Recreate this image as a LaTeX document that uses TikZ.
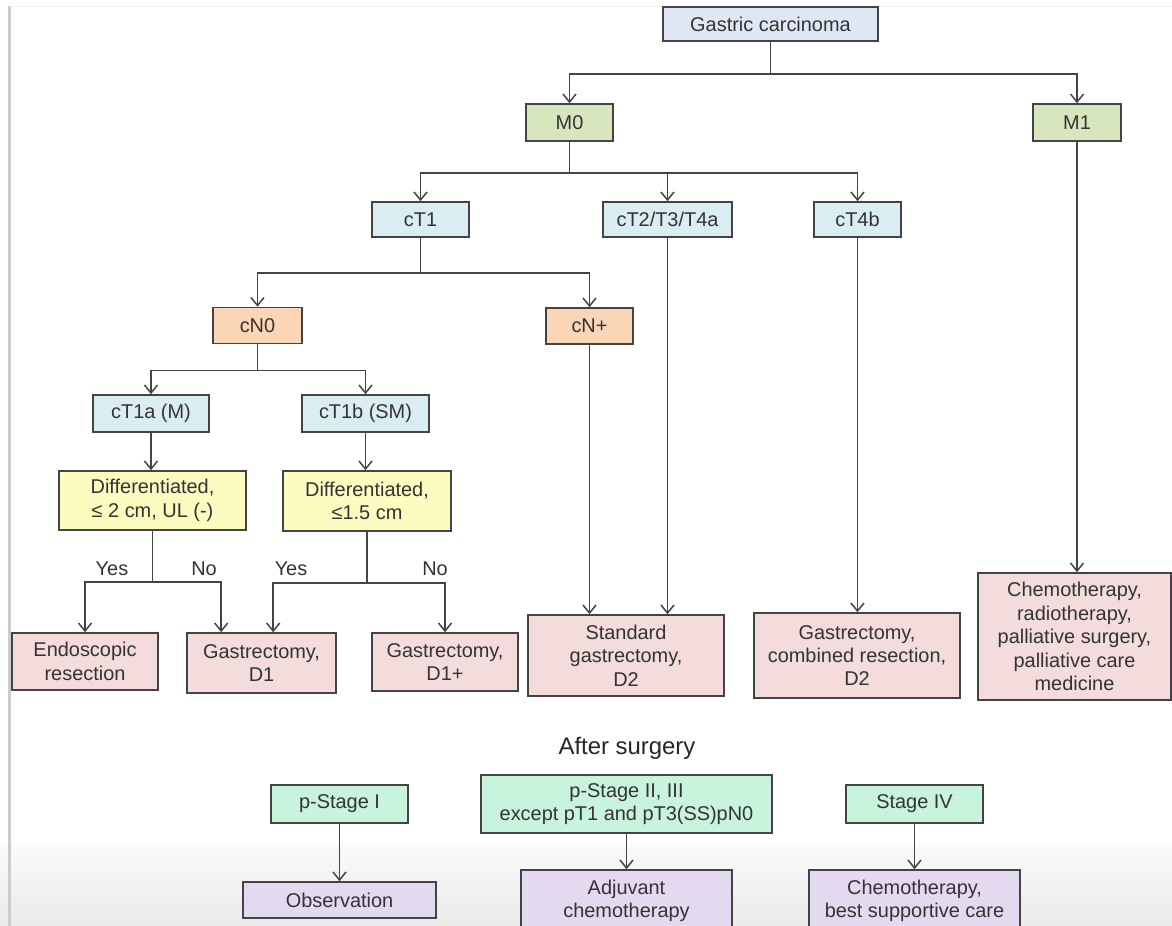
\documentclass[tikz,border=0pt]{standalone}
\usepackage{fontspec}
\setmainfont{Liberation Sans}
\usetikzlibrary{arrows.meta,calc}

\definecolor{edge}{HTML}{444444}
\definecolor{ink}{HTML}{333333}
\definecolor{gcfill}{HTML}{DEE7F3}
\definecolor{tfill}{HTML}{DAEDF3}
\definecolor{mfill}{HTML}{D8E6BE}
\definecolor{nfill}{HTML}{FAD5B6}
\definecolor{yfill}{HTML}{FDFBC0}
\definecolor{pfill}{HTML}{F3DCDB}
\definecolor{gfill}{HTML}{C8F3DD}
\definecolor{vfill}{HTML}{E3DAEF}

\begin{document}
\begin{tikzpicture}[x=1bp,y=-1bp,
  box/.style={draw=edge, line width=1.6bp, align=center, inner sep=0pt,
    text=ink, font=\fontsize{20}{23.5}\selectfont},
  wh/.style 2 args={minimum width=#1bp, minimum height=#2bp},
  gcbox/.style={box, fill=gcfill},
  tbox/.style={box, fill=tfill},
  mbox/.style={box, fill=mfill},
  nbox/.style={box, fill=nfill},
  ybox/.style={box, fill=yfill},
  pbox/.style={box, fill=pfill},
  gbox/.style={box, fill=gfill},
  vbox/.style={box, fill=vfill},
  lbl/.style={inner sep=0pt, text=ink, font=\fontsize{20}{23.5}\selectfont},
  link/.style={draw=edge, line width=1.6bp,
    -{Straight Barb[length=8bp,width=13bp,line width=1.5bp]}}
]
\clip (0,0) rectangle (1172,926);
\fill[white] (0,0) rectangle (1172,926);

% slide frame and lower band
\shade[top color=black!2, bottom color=black!8] (0,846) rectangle (1172,926);
\fill[black!20] (8,6) rectangle (11,926);
\draw[black!6, line width=1bp] (11,6) -- (1172,6);

% staging tree
\node[gcbox, wh={215}{34}] (gc) at (770.5,24) {Gastric carcinoma};
\node[mbox, wh={87}{37}] (m0) at (569.5,122.5) {M0};
\node[mbox, wh={88}{37}] (m1) at (1077,122.5) {M1};

\node[tbox, wh={97}{35}] (ct1) at (420.5,219.5) {cT1};
\node[tbox, wh={129}{35}] (ct2) at (667.5,219.5) {cT2/T3/T4a};
\node[tbox, wh={87}{35}] (ct4b) at (857.5,219.5) {cT4b};

\node[nbox, wh={89}{36}] (cn0) at (257.5,325.5) {cN0};
\node[nbox, wh={87}{36}] (cnp) at (589.5,326) {cN+};

\node[tbox, wh={116}{37}] (ct1a) at (151,413.5) {cT1a (M)};
\node[tbox, wh={127}{37}] (ct1b) at (365.5,413.5) {cT1b (SM)};

\node[ybox, wh={187}{59}] (d1) at (152.5,500.5) {Differentiated,\\≤ 2 cm, UL (-)};
\node[ybox, wh={168}{60}] (d2) at (367,501) {Differentiated,\\≤1.5 cm};

\node[pbox, wh={146}{57}] (endo) at (85,661.5) {Endoscopic\\resection};
\node[pbox, wh={149}{60}] (g1) at (261.5,663) {Gastrectomy,\\D1};
\node[pbox, wh={146}{58}] (g1p) at (445,662) {Gastrectomy,\\D1+};
\node[pbox, wh={196}{81}] (std) at (626,655.5) {Standard\\gastrectomy,\\D2};
\node[pbox, wh={206}{85}] (comb) at (857,655.5) {Gastrectomy,\\combined resection,\\D2};
\node[pbox, wh={193}{127}] (chemo) at (1074.5,636.5) {Chemotherapy,\\radiotherapy,\\palliative surgery,\\palliative care\\medicine};

\node[lbl] (y1) at (112,569) {Yes};
\node[lbl] (n1) at (204,569) {No};
\node[lbl] (y2) at (291,569) {Yes};
\node[lbl] (n2) at (435,569) {No};

% connectors
\draw[link] (gc.south) -- ++(0,32) -| (m0.north);
\draw[link] (gc.south) -- ++(0,32) -| (m1.north);
\draw[link] (m0.south) -- ++(0,31) -| (ct1.north);
\draw[link] (m0.south) -- ++(0,31) -| (ct2.north);
\draw[link] (m0.south) -- ++(0,31) -| (ct4b.north);
\draw[link] (ct1.south) -- ++(0,35) -| (cn0.north);
\draw[link] (ct1.south) -- ++(0,35) -| (cnp.north);
\draw[link] (cn0.south) -- ++(0,26) -| (ct1a.north);
\draw[link] (cn0.south) -- ++(0,26) -| (ct1b.north);
\draw[link] (ct1a.south) -- (ct1a.south |- d1.north);
\draw[link] (ct1b.south) -- (ct1b.south |- d2.north);
\draw[link] (d1.south) -- ++(0,51) -| (endo.north);
\draw[link] (d1.south) -- ++(0,51) -| ($(g1.north west)+(35,0)$);
\draw[link] (d2.south) -- ++(0,51) -| ($(g1.north west)+(87,0)$);
\draw[link] (d2.south) -- ++(0,51) -| (g1p.north);
\draw[link] (cnp.south) -- (cnp.south |- std.north);
\draw[link] (ct2.south) -- (ct2.south |- std.north);
\draw[link] (ct4b.south) -- (ct4b.south |- comb.north);
\draw[link] (m1.south) -- (m1.south |- chemo.north);

% after surgery
\node[inner sep=0pt, text=black!85, font=\fontsize{24}{28}\selectfont] (after) at (627,748) {After surgery};
\node[gbox, wh={137}{38}] (ps1) at (339.5,804) {p-Stage I};
\node[gbox, wh={291}{58}] (ps2) at (626.5,804) {p-Stage II, III\\except pT1 and pT3(SS)pN0};
\node[gbox, wh={137}{38}] (ps4) at (914.5,804) {Stage IV};
\node[vbox, wh={193}{36}] (obs) at (339.5,900) {Observation};
\node[vbox, wh={211}{62}] (adj) at (626.5,901) {Adjuvant\\chemotherapy};
\node[vbox, wh={211}{62}] (best) at (914.5,901) {Chemotherapy,\\best supportive care};

\draw[link] (ps1.south) -- (ps1.south |- obs.north);
\draw[link] (ps2.south) -- (ps2.south |- adj.north);
\draw[link] (ps4.south) -- (ps4.south |- best.north);
\end{tikzpicture}
\end{document}
